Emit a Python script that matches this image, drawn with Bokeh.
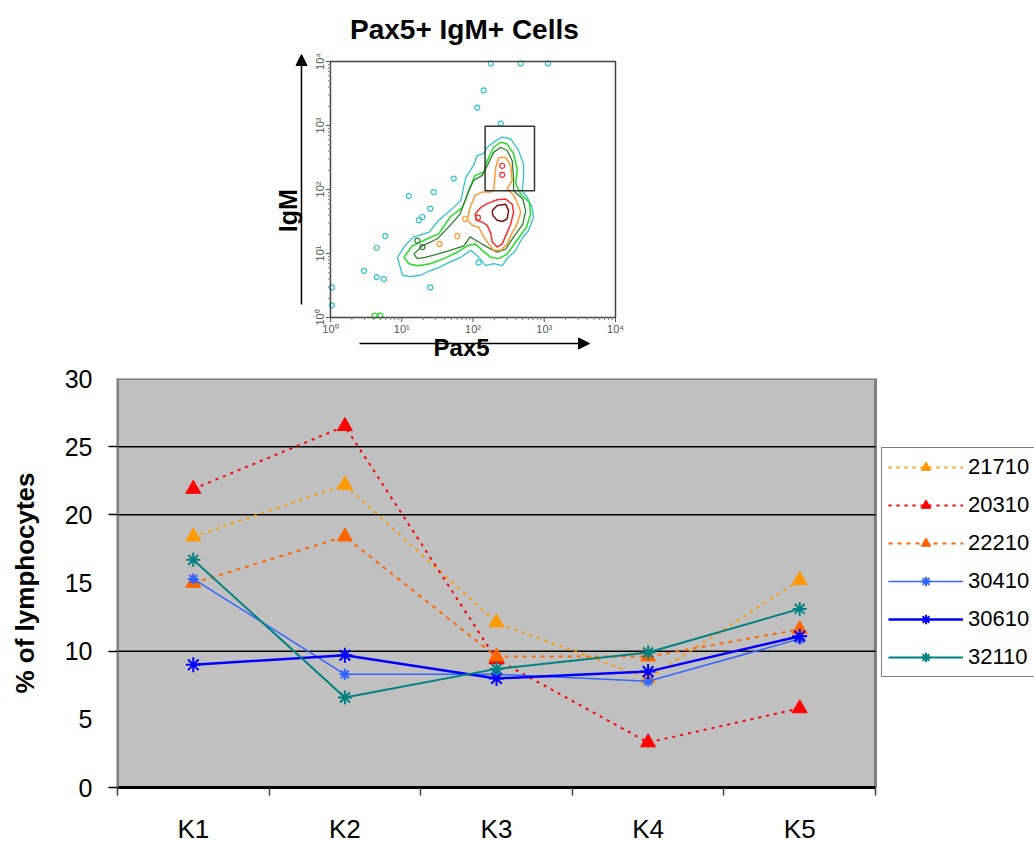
import numpy as np
from bokeh.plotting import figure
from bokeh.layouts import column
from bokeh.models import (FixedTicker, Legend, LegendItem, Arrow, NormalHead, Range1d)
from bokeh.core.properties import value
from bokeh.embed import file_html
from bokeh.resources import INLINE

FONT = "Liberation Sans"

# ---------------- main chart data ----------------
categories = ["K1", "K2", "K3", "K4", "K5"]
series_names = ["21710", "20310", "22210", "30410", "30610", "32110"]
s21710 = [18.4, 22.2, 12.1, 8.0, 15.2]
s20310 = [21.9, 26.5, 9.4, 3.3, 5.8]
s22210 = [15.0, 18.4, 9.6, 9.6, 11.6]
s30410 = [15.3, 8.3, 8.3, 7.8, 10.9]
s30610 = [9.0, 9.7, 8.0, 8.5, 11.1]
s32110 = [16.7, 6.6, 8.7, 9.9, 13.1]
y_ticks = [0, 5, 10, 15, 20, 25, 30]
y_grid_values = [10, 20, 25]

# ---------------- inset (flow cytometry) data, log10 decades ----------------
cyan_lx = [1.01, 0.94, 1.05, 1.17, 1.38, 1.52, 1.68, 1.83, 1.87, 1.90, 2.01, 2.06, 2.15, 2.20, 2.29,
           2.41, 2.53, 2.64, 2.71, 2.71, 2.69, 2.76, 2.83, 2.85, 2.78, 2.67, 2.60, 2.48, 2.41, 2.29,
           2.18, 2.08, 1.97, 1.83, 1.68, 1.54, 1.40, 1.26, 1.12]
cyan_ly = [0.66, 0.94, 1.13, 1.26, 1.33, 1.52, 1.67, 1.83, 2.04, 2.19, 2.38, 2.53, 2.56, 2.66, 2.74,
           2.82, 2.79, 2.61, 2.40, 2.19, 1.98, 1.88, 1.72, 1.57, 1.36, 1.20, 1.05, 0.92, 0.81, 0.84,
           0.81, 0.94, 1.05, 0.94, 0.87, 0.79, 0.73, 0.66, 0.64]
green_lx = [1.03, 1.15, 1.36, 1.52, 1.68, 1.85, 1.92, 1.96, 2.03, 2.15, 2.20, 2.29, 2.39, 2.48, 2.57,
            2.62, 2.60, 2.67, 2.79, 2.81, 2.75, 2.60, 2.48, 2.36, 2.25, 2.13, 2.03, 1.92, 1.78, 1.59,
            1.40, 1.22, 1.10]
green_ly = [0.94, 1.12, 1.23, 1.31, 1.57, 1.72, 1.91, 2.04, 2.22, 2.27, 2.45, 2.66, 2.74, 2.71, 2.56,
            2.32, 2.09, 1.93, 1.80, 1.62, 1.41, 1.18, 0.99, 0.92, 0.94, 1.05, 1.15, 1.12, 1.02, 0.92,
            0.84, 0.81, 0.84]
dkgreen_lx = [1.17, 1.29, 1.50, 1.68, 1.82, 1.89, 1.94, 2.01, 2.13, 2.20, 2.29, 2.39, 2.48, 2.55, 2.57,
              2.57, 2.70, 2.74, 2.70, 2.57, 2.46, 2.34, 2.20, 2.08, 1.96, 1.87, 1.68, 1.50, 1.33, 1.22]
dkgreen_ly = [0.99, 1.12, 1.23, 1.44, 1.62, 1.83, 1.98, 2.14, 2.22, 2.37, 2.58, 2.66, 2.61, 2.45, 2.19,
              1.98, 1.85, 1.67, 1.46, 1.26, 1.07, 1.02, 1.10, 1.18, 1.26, 1.12, 1.05, 0.99, 0.94, 0.92]
orange_lx = [1.92, 1.96, 2.03, 2.13, 2.25, 2.29, 2.32, 2.36, 2.46, 2.53, 2.55, 2.48, 2.57, 2.62, 2.67,
             2.62, 2.53, 2.48, 2.39, 2.29, 2.22, 2.15, 2.08, 1.99]
orange_ly = [1.52, 1.72, 1.91, 1.96, 1.96, 1.98, 2.35, 2.50, 2.50, 2.37, 2.14, 2.01, 1.91, 1.80, 1.65,
             1.46, 1.28, 1.15, 1.05, 1.05, 1.15, 1.26, 1.41, 1.44]
red_lx = [2.03, 2.11, 2.20, 2.34, 2.46, 2.55, 2.57, 2.53, 2.46, 2.41, 2.34, 2.27, 2.25, 2.20, 2.13, 2.05]
red_ly = [1.62, 1.72, 1.78, 1.84, 1.85, 1.77, 1.65, 1.46, 1.28, 1.15, 1.10, 1.18, 1.31, 1.44, 1.49, 1.52]
dkred_lx = [2.27, 2.34, 2.46, 2.50, 2.48, 2.41, 2.34, 2.28]
dkred_ly = [1.67, 1.75, 1.77, 1.67, 1.54, 1.50, 1.52, 1.59]

cyan_isl_lx = [1.10, 1.45, 1.73, 1.29, 1.40, 1.24, 0.77, 0.65, 0.75, 0.65, 0.47, 1.40, 2.08,
               2.15, 2.06, 2.39, 2.25, 2.67, 3.05, 0.02, 0.02]
cyan_isl_ly = [1.90, 1.96, 2.17, 1.57, 1.70, 1.52, 1.27, 1.09, 0.60, 0.63, 0.73, 0.47, 0.86,
               3.55, 3.28, 3.03, 3.97, 3.97, 3.97, 0.19, 0.47]
green_isl_lx = [0.62, 0.70]
green_isl_ly = [0.03, 0.03]
dkgreen_isl_lx = [1.29, 1.22]
dkgreen_isl_ly = [1.10, 1.20]
orange_isl_lx = [1.78, 1.53, 1.89]
orange_isl_ly = [1.27, 1.15, 1.54]
red_isl_lx = [2.41, 2.41, 2.07]
red_isl_ly = [2.37, 2.23, 1.56]

gate_x = [148, 730]
gate_y = [96, 975]
decades = [1, 10, 100, 1000, 10000]
decade_labels = ["10\u2070", "10\u00b9", "10\u00b2", "10\u00b3", "10\u2074"]

# ================= inset figure (frame spans whole canvas; inset axes drawn as marks) =========
TOP_H = 364
X_EXT = (-0.954, 4.351)                    # visible decades, x
Y_EXT = ((317 - TOP_H) / 64.0, 317 / 64.0)  # visible decades, y
t = figure(width=1034, height=TOP_H, x_axis_type="log", y_axis_type="log",
           x_range=Range1d(10 ** X_EXT[0], 10 ** X_EXT[1]),
           y_range=Range1d(10 ** Y_EXT[0], 10 ** Y_EXT[1]),
           x_axis_location=None, y_axis_location=None,
           output_backend="svg", toolbar_location=None, frame_align=False,
           min_border_left=262, min_border_right=394, min_border_top=0, min_border_bottom=0)
t.xgrid.grid_line_color = None
t.ygrid.grid_line_color = None
t.outline_line_color = None
t.background_fill_color = "white"
t.border_fill_color = "white"

px = 10 ** (1 / 71.25)   # one screen pixel along x, as a factor
py = 10 ** (1 / 64.0)    # one screen pixel along y, as a factor


def closed(lx, ly):
    return (list(10 ** np.array(lx + lx[:1])), list(10 ** np.array(ly + ly[:1])))


contours = [
    (cyan_lx, cyan_ly, "#2EC4CC", 1.3),
    (green_lx, green_ly, "#22DD22", 1.5),
    (dkgreen_lx, dkgreen_ly, "#2F7F2F", 1.3),
    (orange_lx, orange_ly, "#FF9933", 1.5),
    (red_lx, red_ly, "#FF2A2A", 1.5),
    (dkred_lx, dkred_ly, "#7A1010", 1.5),
]
for lx, ly, col, w in contours:
    xs, ys = closed(lx, ly)
    t.line(xs, ys, line_color=col, line_width=w)

islands = [
    (cyan_isl_lx, cyan_isl_ly, "#2EC4CC"),
    (green_isl_lx, green_isl_ly, "#22DD22"),
    (dkgreen_isl_lx, dkgreen_isl_ly, "#2F7F2F"),
    (orange_isl_lx, orange_isl_ly, "#FF9933"),
    (red_isl_lx, red_isl_ly, "#FF2A2A"),
]
for lx, ly, col in islands:
    t.scatter(list(10 ** np.array(lx)), list(10 ** np.array(ly)), marker="circle", size=5,
              fill_color=None, line_color=col, line_width=1.2)

# gate
t.quad(left=[gate_x[0]], right=[gate_x[1]], bottom=[gate_y[0]], top=[gate_y[1]],
       fill_color=None, line_color="#333333", line_width=1.5)
# inset axes box
t.quad(left=[decades[0]], right=[decades[-1]], bottom=[decades[0]], top=[decades[-1]],
       fill_color=None, line_color="#444444", line_width=1.5)

# inset ticks
minors = [m * d for d in decades[:-1] for m in range(2, 10)]
t.scatter(decades, [decades[0] / py ** 2] * len(decades), marker="dash", angle=np.pi / 2, size=5,
          line_color="#555555", line_width=1)
t.scatter([decades[0] / px ** 2] * len(decades), decades, marker="dash", size=5,
          line_color="#555555", line_width=1)
t.scatter(minors, [decades[0] / py] * len(minors), marker="dash", angle=np.pi / 2, size=3,
          line_color="#777777", line_width=1)
t.scatter([decades[0] / px] * len(minors), minors, marker="dash", size=3,
          line_color="#777777", line_width=1)
# inset tick labels
t.text(decades, [decades[0] / py ** 11] * len(decades), text=decade_labels,
       text_align="center", text_baseline="middle", text_font=value(FONT),
       text_font_size="11px", text_color="#555555")
t.text([decades[0] / px ** 10] * len(decades), decades, text=decade_labels, angle=np.pi / 2,
       text_align="center", text_baseline="middle", text_font=value(FONT),
       text_font_size="11px", text_color="#555555")

# arrows and axis names
t.add_layout(Arrow(end=NormalHead(size=11, fill_color="black", line_color="black"),
                   x_start=decades[0] / px ** 29, y_start=decades[0] * py ** 13,
                   x_end=decades[0] / px ** 29, y_end=decades[-1] * py ** 7,
                   line_color="black", line_width=1.5))
t.add_layout(Arrow(end=NormalHead(size=11, fill_color="black", line_color="black"),
                   x_start=decades[0] * px ** 29, y_start=decades[0] / py ** 26,
                   x_end=decades[-1] / px ** 26, y_end=decades[0] / py ** 26,
                   line_color="black", line_width=1.5))
t.text([decades[0] / px ** 42], [10 ** 1.67], text=["IgM"], angle=np.pi / 2,
       text_align="center", text_baseline="middle", text_font=value(FONT),
       text_font_size="25px", text_font_style="bold", text_color="black")
t.text([10 ** 1.84], [decades[0] / py ** 30], text=["Pax5"],
       text_align="center", text_baseline="middle", text_font=value(FONT),
       text_font_size="24px", text_font_style="bold", text_color="black")
t.text([10 ** 1.88], [decades[-1] * py ** 32], text=["Pax5+ IgM+ Cells"],
       text_align="center", text_baseline="middle", text_font=value(FONT),
       text_font_size="28px", text_font_style="bold", text_color="black")

# ================= main chart =================
# the frame runs to the right edge of the page so the legend can sit right of the plot area
MAIN_H = 846 - TOP_H
xpos = [i + 1 for i in range(len(categories))]
x_lo, x_hi = xpos[0] - 0.5, xpos[-1] + 0.5
x_end = x_lo + len(categories) * (1034 - 117) / (875 - 117)
p = figure(width=1034, height=MAIN_H, x_range=Range1d(x_lo, x_end),
           y_range=Range1d(y_ticks[0], y_ticks[-1]),
           output_backend="svg", toolbar_location=None, frame_align=False,
           min_border_left=117, min_border_right=0, min_border_top=378 - TOP_H,
           min_border_bottom=MAIN_H - (792 - TOP_H))
p.background_fill_color = "white"
p.border_fill_color = "white"
p.outline_line_color = None

# plot area and its gridlines (limited to the plot area)
p.quad(left=[x_lo], right=[x_hi], bottom=[y_ticks[0]], top=[y_ticks[-1]],
       fill_color="#C0C0C0", line_color="#808080", line_width=3, level="image")
p.segment(x0=[x_lo] * len(y_grid_values), y0=y_grid_values,
          x1=[x_hi] * len(y_grid_values), y1=y_grid_values,
          line_color="black", line_width=1.5)

p.xaxis.bounds = (x_lo, x_hi)
p.xaxis.ticker = FixedTicker(ticks=xpos, minor_ticks=[v - 0.5 for v in xpos] + [x_hi])
p.xaxis.major_label_overrides = {v: c for v, c in zip(xpos, categories)}
p.xaxis.major_tick_out = 0
p.xaxis.major_tick_in = 0
p.xaxis.minor_tick_out = 8
p.xaxis.minor_tick_in = 0
p.xaxis.minor_tick_line_color = "#404040"
p.xaxis.minor_tick_line_width = 1.5
p.xaxis.axis_line_color = "black"
p.xaxis.axis_line_width = 3
p.xaxis.major_label_text_font = FONT
p.xaxis.major_label_text_font_size = "26px"
p.xaxis.major_label_text_color = "black"
p.xaxis.major_label_standoff = 18

p.yaxis.ticker = FixedTicker(ticks=y_ticks, minor_ticks=[0] + y_grid_values)
p.yaxis.major_tick_out = 0
p.yaxis.major_tick_in = 0
p.yaxis.minor_tick_out = 9
p.yaxis.minor_tick_in = 0
p.yaxis.minor_tick_line_color = "black"
p.yaxis.minor_tick_line_width = 1.5
p.yaxis.axis_line_color = "#808080"
p.yaxis.axis_line_width = 2
p.yaxis.major_label_text_font = FONT
p.yaxis.major_label_text_font_size = "25px"
p.yaxis.major_label_text_color = "black"
p.yaxis.major_label_standoff = 16
p.yaxis.axis_label = "% of lymphocytes"
p.yaxis.axis_label_text_font = FONT
p.yaxis.axis_label_text_font_size = "26px"
p.yaxis.axis_label_text_font_style = "bold"
p.yaxis.axis_label_text_color = "black"
p.yaxis.axis_label_standoff = 22

p.xgrid.grid_line_color = None
p.ygrid.grid_line_color = None

styles = [
    (s21710, "#FF9900", "3 5", 2.0, "triangle", 15),
    (s20310, "#FF0000", "3 5", 2.0, "triangle", 15),
    (s22210, "#FF6600", "4 5", 2.0, "triangle", 15),
    (s30410, "#3366FF", "solid", 1.5, "asterisk", 11),
    (s30610, "#0000FF", "solid", 2.5, "asterisk", 15),
    (s32110, "#008080", "solid", 2.0, "asterisk", 14),
]
items = []
for name, (vals, col, dash, lw, mk, ms) in zip(series_names, styles):
    lr = p.line(xpos, vals, line_color=col, line_width=lw, line_dash=dash)
    if mk == "triangle":
        sr = p.scatter(xpos, vals, marker=mk, size=ms, fill_color=col, line_color=col)
    else:
        sr = p.scatter(xpos, vals, marker=mk, size=ms, line_color=col, line_width=2)
    items.append(LegendItem(label=name, renderers=[lr, sr]))

legend = Legend(items=items, location=(764, 110))
legend.border_line_color = "black"
legend.border_line_width = 1
legend.background_fill_color = "white"
legend.background_fill_alpha = 1
legend.label_text_font = FONT
legend.label_text_font_size = "22px"
legend.label_text_color = "black"
legend.glyph_width = 75
legend.glyph_height = 24
legend.label_height = 24
legend.spacing = 12
legend.padding = 6
legend.margin = 0
legend.label_standoff = 5
p.add_layout(legend)

layout = column(t, p, spacing=0)
open("out.html", "w").write(file_html(layout, INLINE))
